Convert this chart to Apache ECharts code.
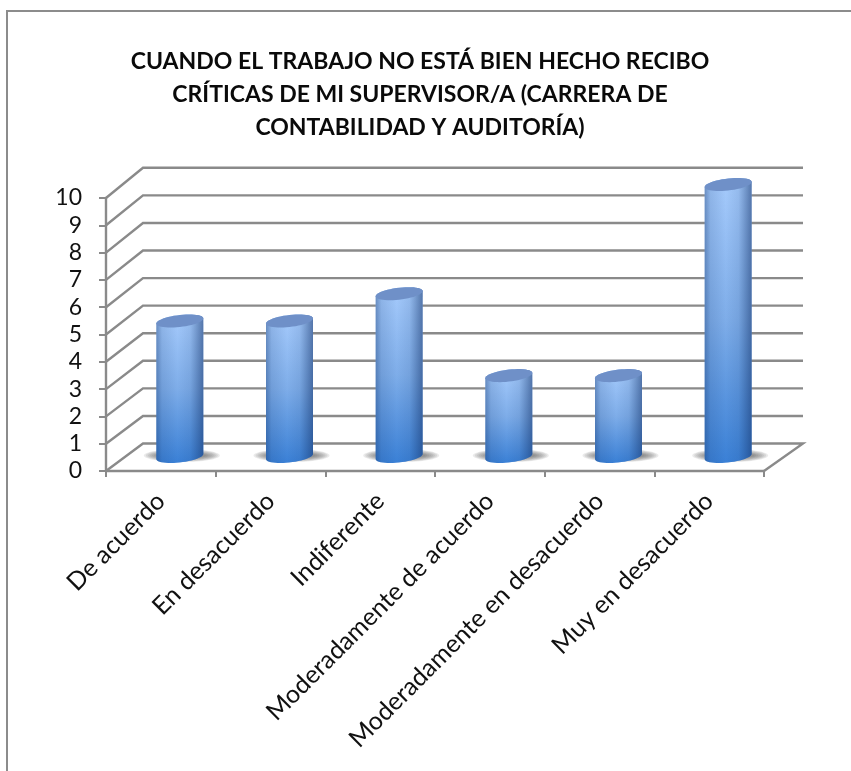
<!DOCTYPE html>
<html><head><meta charset="utf-8">
<style>html,body{margin:0;padding:0;background:#fff}#c{width:851px;height:771px}</style>
<script src="https://cdn.jsdelivr.net/npm/echarts@6/dist/echarts.min.js"></script>
</head><body><div id="c"></div>
<script>
const categories = ['De acuerdo','En desacuerdo','Indiferente','Moderadamente de acuerdo','Moderadamente en desacuerdo','Muy en desacuerdo'];
const values = [5,5,6,3,3,10];
const yTicks = [0,1,2,3,4,5,6,7,8,9,10];
const chartTitle = 'CUANDO EL TRABAJO NO ESTÁ BIEN HECHO RECIBO\nCRÍTICAS DE MI SUPERVISOR/A (CARRERA DE\nCONTABILIDAD Y AUDITORÍA)';

const GRID = '#8a8a8a';
const DX = 37, DY = -27.5;      // depth of the 3D box
const CX = 18, CY = -13.5;      // cylinders stand mid-depth
const A = 23.5, B = 6, K = 0.11; // ellipse half width, half height, tilt

function ellipsePts(cx, cy, from, to, n) {
  const p = [];
  for (let i = 0; i <= n; i++) {
    const t = from + (to - from) * i / n;
    const dx = A * Math.cos(t);
    p.push([cx + dx, cy + B * Math.sin(t) - K * dx]);
  }
  return p;
}

function renderWall(params, api) {
  const v = api.value(0);
  const band = api.size([1, 0])[0];
  const p = api.coord([0, v]);
  const xL = p[0] - band / 2, y = p[1];
  const xR = api.coord([categories.length - 1, v])[0] + band / 2;
  const style = { stroke: GRID, lineWidth: 2.4, fill: 'none' };
  const yB = y + DY - 0.27 * v;
  const pts = [[xL, y], [xL + DX, yB], [xR + DX + 2, yB]];
  if (v === 0) pts.push([xR, y]);
  return { type: 'polyline', shape: { points: pts }, style, silent: true };
}

function renderCylinder(params, api) {
  const i = api.value(0), v = api.value(1);
  const top = api.coord([i, v]), base = api.coord([i, 0]);
  const cx = top[0] + CX + 1, yT = top[1] + CY, yB = base[1] + CY - 1;
  const body = ellipsePts(cx, yT, Math.PI, 2 * Math.PI, 24)
    .concat(ellipsePts(cx, yB, 0, Math.PI, 24));
  const children = [];
  for (let s = 0; s < 8; s++) {
    children.push({ type: 'ellipse',
      shape: { cx: cx + 2, cy: yB - 1, rx: 38 - s * 2, ry: 6.5 - s * 0.6 },
      style: { fill: 'rgba(95,95,95,0.13)' } });
  }
  children.push(
    { type: 'polygon', shape: { points: body },
      style: { fill: { type: 'linear', x: 0, y: 0, x2: 0, y2: 1, colorStops: [
        { offset: 0, color: '#a6cbfc' }, { offset: 0.5, color: '#7eade9' }, { offset: 1, color: '#3a80d6' }] } } },
    { type: 'polygon', shape: { points: body },
      style: { fill: { type: 'linear', x: 0, y: 0, x2: 1, y2: 0, colorStops: [
        { offset: 0, color: 'rgba(25,60,115,0.42)' }, { offset: 0.12, color: 'rgba(25,60,115,0.14)' },
        { offset: 0.45, color: 'rgba(25,60,115,0)' }, { offset: 0.72, color: 'rgba(25,60,115,0.1)' },
        { offset: 1, color: 'rgba(20,50,105,0.55)' }] } } },
    { type: 'polygon', shape: { points: ellipsePts(cx, yT, 0, 2 * Math.PI, 48) },
      style: { fill: '#6f90c8' } }
  );
  return { type: 'group', children, silent: true };
}

const chart = echarts.init(document.getElementById('c'), null, { renderer: 'canvas' });
chart.setOption({
  animation: false,
  backgroundColor: '#fff',
  title: { text: chartTitle, left: 415, top: 40, textAlign: 'center',
    textStyle: { fontFamily: 'Lato', fontWeight: 'bold', fontSize: 23, lineHeight: 33, color: '#0a0a0a' } },
  graphic: [
    { type: 'polyline', shape: { points: [[7, 771], [7, 11], [851, 11]] },
      style: { stroke: '#8c8c8c', lineWidth: 2, fill: 'none' }, silent: true }
  ],
  grid: { left: 106, right: 87, top: 198, bottom: 300, containLabel: false },
  xAxis: { type: 'category', data: categories,
    axisLine: { show: true, lineStyle: { color: GRID, width: 2.4 } },
    axisTick: { show: true, length: 6, lineStyle: { color: GRID, width: 2 } },
    axisLabel: { interval: 0, rotate: 45, margin: 26, fontFamily: 'Lato', fontSize: 25, color: '#111' } },
  yAxis: { type: 'value', min: 0, max: 10, interval: 1,
    splitLine: { show: false },
    axisLine: { show: true, lineStyle: { color: GRID, width: 2.4 } },
    axisTick: { show: true, length: 7, lineStyle: { color: GRID, width: 2 } },
    axisLabel: { margin: 24, fontFamily: 'Lato', fontSize: 23, color: '#111' } },
  series: [
    { type: 'custom', name: 'walls', data: yTicks.map(v => [v]), encode: { y: 0 }, renderItem: renderWall, z: 1, clip: false },
    { type: 'custom', name: 'valores', data: values.map((v, i) => [i, v]), encode: { x: 0, y: 1 }, renderItem: renderCylinder, z: 3, clip: false }
  ]
});
</script></body></html>
